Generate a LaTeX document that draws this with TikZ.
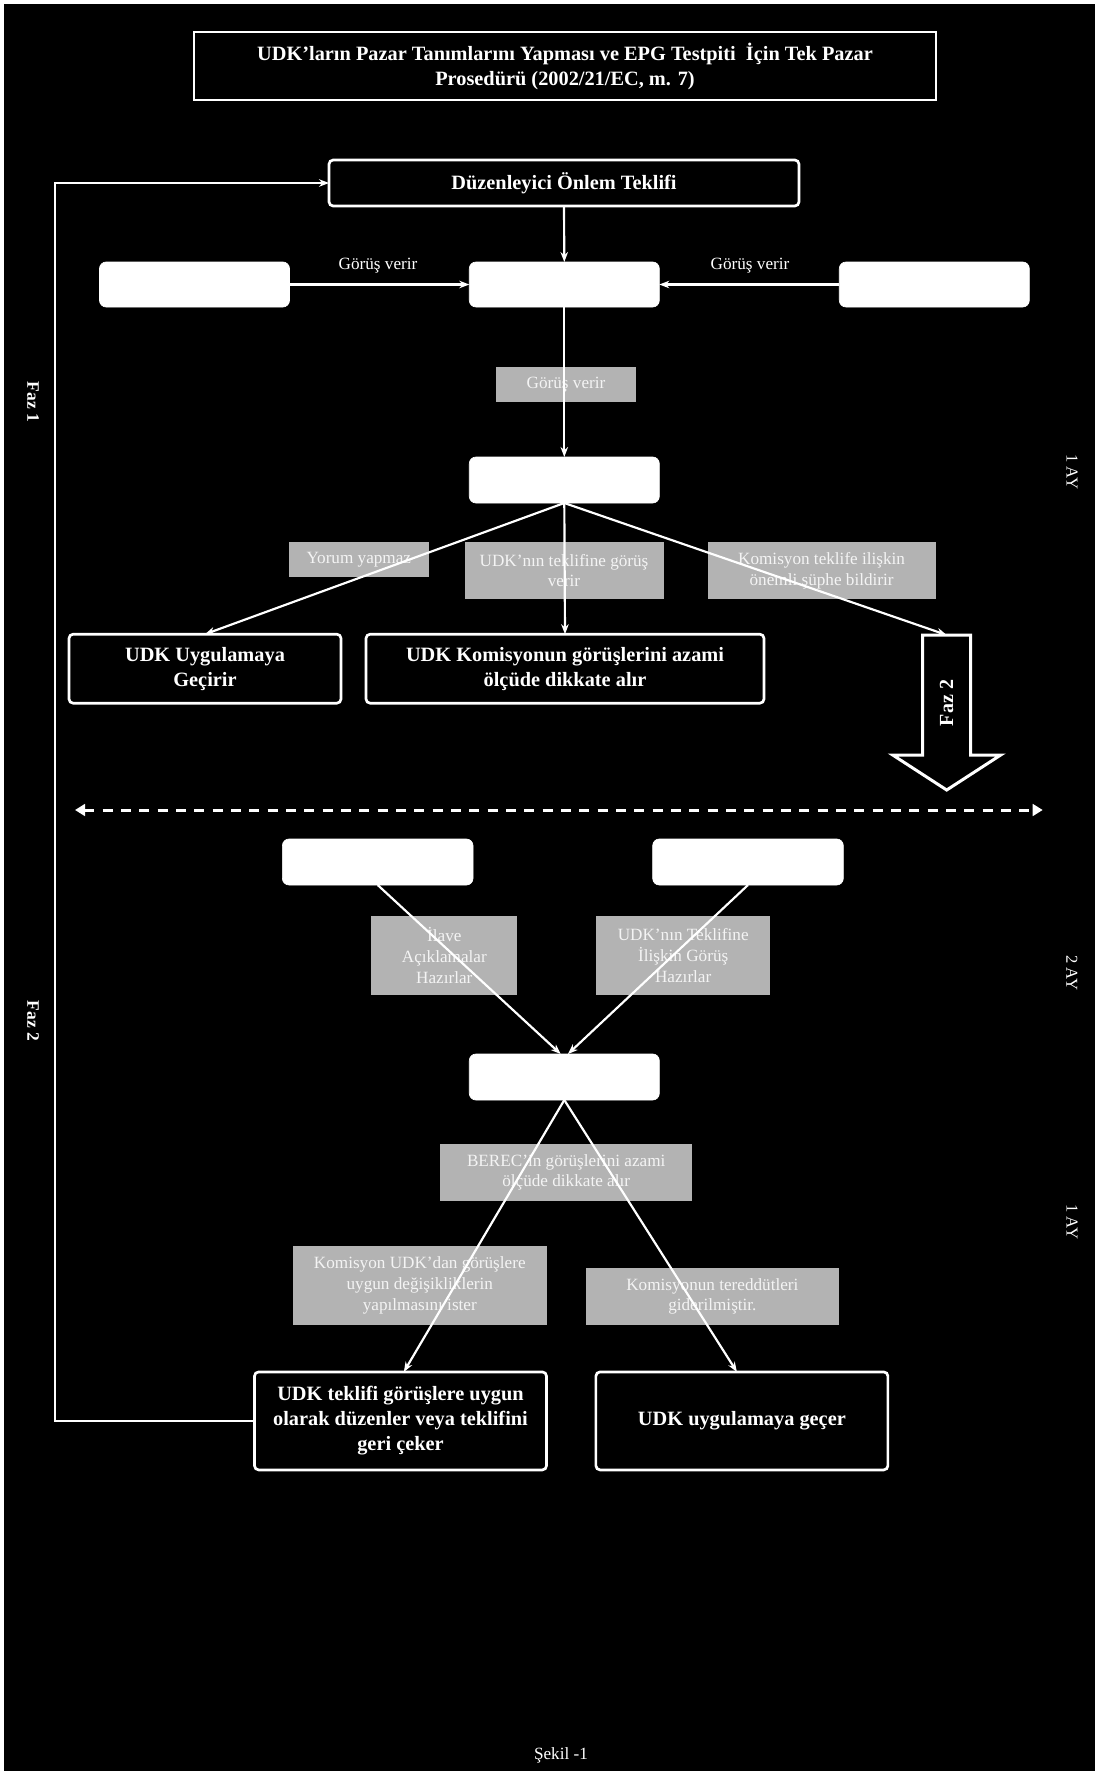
\documentclass[tikz,border=0pt]{standalone}
\usepackage{fontspec}
\setmainfont{Liberation Serif}
\usetikzlibrary{arrows.meta}
\definecolor{lbl}{HTML}{B3B3B3}
\definecolor{lbltxt}{HTML}{F4F4F4}
\begin{document}
\begin{tikzpicture}[x=0.6pt,y=-0.6pt,
  sz/.style 2 args={minimum width={#1*0.6pt},minimum height={#2*0.6pt},inner sep=0pt,outer sep=0pt},
  bbox/.style={draw=white,line width=1.6pt,fill=black,rounded corners=2.5pt,text=white,font=\fontsize{12.2}{15}\selectfont\bfseries,align=center},
  wbox/.style={draw=white,fill=white,rounded corners=4pt},
  gbox/.style={fill=lbl,text=lbltxt,font=\fontsize{10.3}{12.4}\selectfont,align=center},
  conn/.style={white,line width=1.3pt,-{Stealth[length=6pt,width=4.5pt]}},
  side/.style={text=white,rotate=-90,font=\fontsize{10}{12}\selectfont},
  plain/.style={text=white,font=\fontsize{10.3}{12.4}\selectfont},
]
\useasboundingbox (0,0) rectangle (1099,1776);
\fill[white] (0,0) rectangle (1099,1776);
\fill[black] (4,3.5) rectangle (1094.5,1771);

% title
\node[bbox,sharp corners,sz={742}{68}] (title) at (565,66)
  {UDK’ların Pazar Tanımlarını Yapması ve EPG Testpiti~ İçin Tek Pazar\\Prosedürü (2002/21/EC, m. 7)};

% phase 1
\node[bbox,sz={470}{46}] (dz) at (564,183) {Düzenleyici Önlem Teklifi};
\node[wbox,sz={190}{45}] (wl) at (194.5,284.5) {};
\node[wbox,sz={190}{45}] (wm) at (564.3,284.5) {};
\node[wbox,sz={190}{45}] (wr) at (934.3,284.5) {};
\node[plain] (gvl) at (378,266) {Görüş verir};
\node[plain] (gvr) at (750,266) {Görüş verir};

\node[gbox,sz={140}{35}] (g1) at (566,384.5) {Görüş verir};
\node[wbox,sz={190}{46}] (wm2) at (564.3,480) {};

\node[gbox,sz={140}{35}] (g2) at (358.8,559.7) {Yorum yapmaz};
\node[gbox,sz={199}{57}] (g3) at (564,570.5) {UDK’nın teklifine görüş\\verir};
\node[gbox,sz={228}{57}] (g4) at (821.6,570.5) {Komisyon teklife ilişkin\\önemli şüphe bildirir};

\node[bbox,sz={272}{69}] (bL) at (205,668.7) {UDK Uygulamaya\\Geçirir};
\node[bbox,sz={398}{69}] (bM) at (565,668.7) {UDK Komisyonun görüşlerini azami\\ölçüde dikkate alır};

% Faz 2 big arrow
\draw[white,line width=1.8pt,fill=black,line join=miter]
  (922.7,635) -- (970.7,635) -- (970.7,755) -- (1000.7,755) -- (946.7,790)
  -- (892.7,755) -- (922.7,755) -- cycle;
\coordinate (f2top) at (946.7,635);
\node[text=white,rotate=90,font=\fontsize{12}{14}\selectfont\bfseries] (f2) at (946.7,703) {Faz 2};

% side labels
\node[side,font=\fontsize{10.5}{12}\selectfont\bfseries] (faz1) at (33,402) {Faz 1};
\node[side,font=\fontsize{10.5}{12}\selectfont\bfseries] (faz2) at (33,1021) {Faz 2};
\node[side] (ay1) at (1072,472) {1 AY};
\node[side] (ay2) at (1072,973) {2 AY};
\node[side] (ay3) at (1072,1222) {1 AY};

% dashed separator
\coordinate (dl) at (75,810);
\coordinate (dr) at (1042.7,810);
\draw[white,line width=1.8pt,dash pattern=on 6pt off 5pt,
  {Triangle[length=6pt,width=7pt]}-{Triangle[length=6pt,width=7pt]}] (dl) -- (dr);

% phase 2
\node[wbox,sz={190.6}{46}] (wl2) at (377.7,862) {};
\node[wbox,sz={190.6}{46}] (wr2) at (748,862) {};
\node[gbox,sz={146}{79}] (g5) at (444.3,955.5) {İlave\\Açıklamalar\\Hazırlar};
\node[gbox,sz={174}{79}] (g6) at (683.2,955.5) {UDK’nın Teklifine\\İlişkin Görüş\\Hazırlar};
\node[wbox,sz={190}{46}] (wm3) at (564.3,1077) {};

\node[gbox,sz={252}{57}] (g7) at (566.2,1172.5) {BEREC’in görüşlerini azami\\ölçüde dikkate alır};
\node[gbox,sz={253.6}{79.3}] (g8) at (419.8,1285.4) {Komisyon UDK’dan görüşlere\\uygun değişikliklerin\\yapılmasını ister};
\node[gbox,sz={253}{57.3}] (g9) at (712.4,1296.4) {Komisyonun tereddütleri\\giderilmiştir.};

\node[bbox,sz={292}{98}] (bL3) at (400.5,1420.9) {UDK teklifi görüşlere uygun\\olarak düzenler veya teklifini\\geri çeker};
\node[bbox,sz={292}{98}] (bR3) at (741.9,1420.9) {UDK uygulamaya geçer};

\node[plain] (sekil) at (561,1755) {Şekil -1};

% connectors
\coordinate (lp) at (55,1421);
\draw[conn] (bL3.west) -- (bL3.west -| lp) |- (dz.west);
\draw[conn] (dz.south) -- (wm.north);
\draw[conn] (wl.east) -- (wm.west);
\draw[conn] (wr.west) -- (wm.east);
\draw[conn] (wm.south) -- (wm2.north);
\draw[conn] (wm2.south) -- (bL.north);
\draw[conn] (wm2.south) -- (bM.north);
\draw[conn] (wm2.south) -- (f2top);
\draw[conn] (wl2.south) -- ([xshift=-2.2pt]wm3.north);
\draw[conn] (wr2.south) -- ([xshift=2.2pt]wm3.north);
\draw[conn] (wm3.south) -- ([xshift=2pt]bL3.north);
\draw[conn] (wm3.south) -- ([xshift=-3pt]bR3.north);
\end{tikzpicture}
\end{document}
